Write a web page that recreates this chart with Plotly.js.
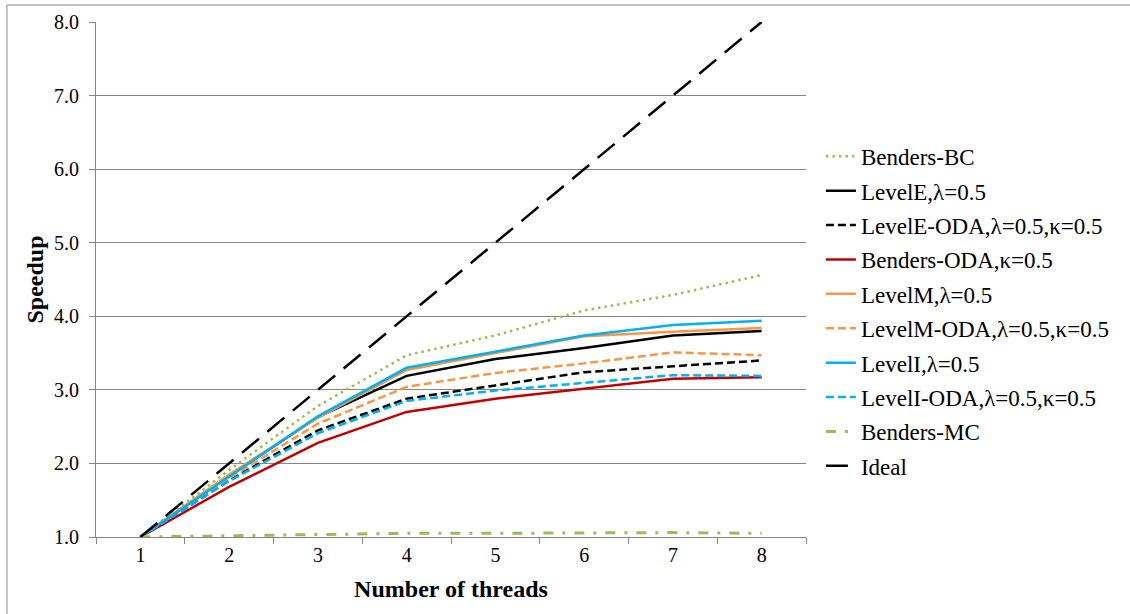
<!DOCTYPE html>
<html>
<head>
<meta charset="utf-8">
<script src="https://cdn.plot.ly/plotly-3.0.1.min.js"></script>
<style>
  html, body { margin: 0; padding: 0; background: #fff; }
  #chart { width: 1130px; height: 614px; }
</style>
</head>
<body>
<div id="chart"></div>
<script>
// Number of threads (category axis)
const threads = ['1', '2', '3', '4', '5', '6', '7', '8'];

// Speedup per method
const bendersBC  = [1, 1.91, 2.78, 3.47, 3.74, 4.08, 4.29, 4.56];
const levelE     = [1, 1.83, 2.63, 3.19, 3.42, 3.57, 3.74, 3.80];
const levelEODA  = [1, 1.77, 2.45, 2.88, 3.06, 3.24, 3.32, 3.40];
const bendersODA = [1, 1.68, 2.28, 2.70, 2.88, 3.01, 3.15, 3.17];
const levelM     = [1, 1.85, 2.62, 3.27, 3.50, 3.73, 3.79, 3.84];
const levelMODA  = [1, 1.80, 2.54, 3.04, 3.23, 3.36, 3.51, 3.47];
const levelI     = [1, 1.82, 2.64, 3.30, 3.52, 3.74, 3.88, 3.94];
const levelIODA  = [1, 1.76, 2.41, 2.85, 2.99, 3.09, 3.20, 3.19];
const bendersMC  = [1, 1.02, 1.03, 1.05, 1.05, 1.06, 1.06, 1.05];
const ideal      = [1, 2, 3, 4, 5, 6, 7, 8];

const seriesNames = [
  'Benders-BC',
  'LevelE,λ=0.5',
  'LevelE-ODA,λ=0.5,κ=0.5',
  'Benders-ODA,κ=0.5',
  'LevelM,λ=0.5',
  'LevelM-ODA,λ=0.5,κ=0.5',
  'LevelI,λ=0.5',
  'LevelI-ODA,λ=0.5,κ=0.5',
  'Benders-MC',
  'Ideal'
];

const GREEN = '#9bbb59', BLACK = '#000000', RED = '#c00000',
      ORANGE = '#f79646', BLUE = '#00b0f0', GRID = '#868686';
const DASH = '8px,4px';

const seriesData = [bendersBC, levelE, levelEODA, bendersODA, levelM,
                    levelMODA, levelI, levelIODA, bendersMC, ideal];
const styles = [
  {color: GREEN,  width: 2.5, dash: '2.5px,4px'},
  {color: BLACK,  width: 2.5, dash: 'solid'},
  {color: BLACK,  width: 2.5, dash: DASH},
  {color: RED,    width: 2.5, dash: 'solid'},
  {color: ORANGE, width: 2.5, dash: 'solid'},
  {color: ORANGE, width: 2.5, dash: DASH},
  {color: BLUE,   width: 2.5, dash: 'solid'},
  {color: BLUE,   width: 2.5, dash: DASH},
  {color: GREEN,  width: 3,   dash: '10px,9px,3px,9px'},
  {color: BLACK,  width: 2.5, dash: '22px,11px'}
];

const traces = seriesData.map((ys, i) => ({
  type: 'scatter',
  mode: 'lines',
  x: threads,
  y: ys,
  name: seriesNames[i],
  legendgroup: 'g' + i,
  line: styles[i]
}));

const FONT = 'Liberation Serif';

const layout = {
  width: 1130,
  height: 614,
  margin: {l: 96, r: 324, t: 22, b: 77, pad: 0},
  paper_bgcolor: '#ffffff',
  plot_bgcolor: '#ffffff',
  font: {family: FONT, size: 20, color: '#000'},
  showlegend: true,
  legend: {
    x: 1.021, xanchor: 'left',
    y: 0.781, yanchor: 'top',
    font: {family: FONT, size: 23, color: '#000'},
    bgcolor: 'rgba(0,0,0,0)',
    itemwidth: 30,
    tracegroupgap: 1.5
  },
  xaxis: {
    type: 'category',
    range: [-0.5, 7.5],
    autorange: false,
    tickson: 'boundaries',
    ticks: 'outside',
    ticklen: 6,
    tickcolor: GRID,
    showgrid: false,
    showline: true,
    linecolor: GRID,
    linewidth: 1,
    zeroline: false,
    tickfont: {family: FONT, size: 20, color: '#000'},
    title: {text: 'Number of threads', font: {family: FONT, size: 24, color: '#000', weight: 'bold'}, standoff: 15}
  },
  yaxis: {
    range: [1, 8],
    autorange: false,
    dtick: 1,
    tickformat: '.1f',
    ticks: 'outside',
    ticklen: 6,
    tickcolor: GRID,
    showgrid: true,
    gridcolor: GRID,
    gridwidth: 1,
    showline: true,
    linecolor: GRID,
    linewidth: 1,
    zeroline: false,
    ticklabelstandoff: 6,
    tickfont: {family: FONT, size: 20, color: '#000'},
    title: {text: 'Speedup', font: {family: FONT, size: 24, color: '#000', weight: 'bold'}, standoff: 3}
  },
  shapes: [{
    type: 'rect', xref: 'paper', yref: 'paper', layer: 'below',
    x0: -0.1254, x1: 1.4704, y0: -0.161, y1: 1.033,
    line: {color: GRID, width: 1}
  }]
};

Plotly.newPlot('chart', traces, layout, {displayModeBar: false, staticPlot: true});
</script>
</body>
</html>
